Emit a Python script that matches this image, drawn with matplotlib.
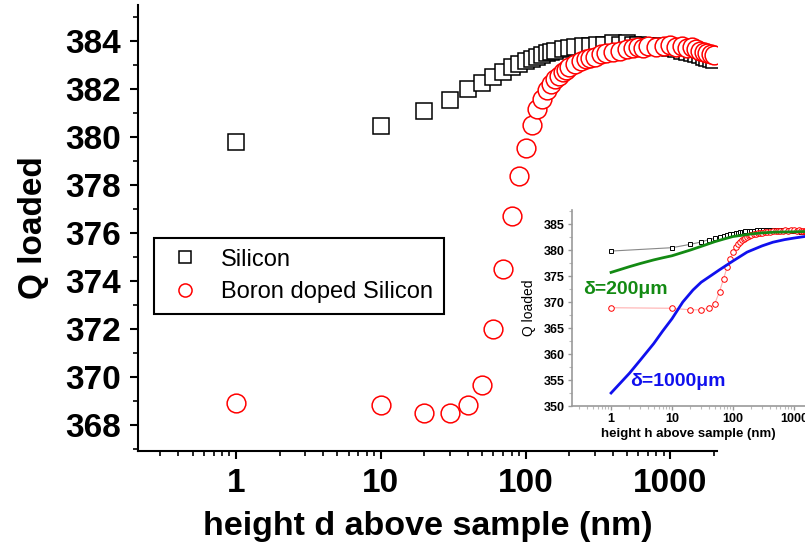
import matplotlib
matplotlib.use('Agg')
from matplotlib import pyplot as plt
from matplotlib.ticker import MultipleLocator, LogLocator, NullFormatter, FixedLocator

plt.rcParams['font.family'] = ['Liberation Sans', 'DejaVu Sans']

# Silicon (squares)
si_x = [1, 10, 20, 30, 40, 50, 60, 70, 80, 90, 100, 110, 120, 130, 140, 150,
        160, 180, 200, 220, 250, 280, 310, 350, 400, 450, 500, 550, 600, 700,
        800, 900, 1000, 1100, 1200, 1300, 1400, 1500, 1600, 1700, 1800, 1900, 2000]
si_q = [379.8, 380.45, 381.1, 381.55, 382.0, 382.25, 382.5, 382.7, 382.9, 383.05,
        383.15, 383.25, 383.35, 383.4, 383.5, 383.55, 383.6, 383.65, 383.7, 383.75,
        383.8, 383.8, 383.85, 383.85, 383.9, 383.85, 383.9, 383.85, 383.85, 383.8,
        383.8, 383.75, 383.7, 383.65, 383.6, 383.55, 383.5, 383.45, 383.4, 383.35,
        383.3, 383.25, 383.2]

# Boron doped silicon (circles)
b_x = [1, 10, 20, 30, 40, 50, 60, 70, 80, 90, 100, 110, 120, 130, 140, 150,
       160, 170, 180, 190, 200, 220, 240, 260, 280, 300, 330, 360, 400, 450,
       500, 550, 600, 650, 700, 800, 900, 1000, 1100, 1200, 1300, 1400, 1500,
       1600, 1700, 1800, 1900, 2000]
b_q = [368.9, 368.8, 368.5, 368.5, 368.8, 369.65, 372.0, 374.5, 376.7, 378.35,
       379.55, 380.5, 381.15, 381.6, 381.95, 382.2, 382.4, 382.55, 382.7, 382.8,
       382.9, 383.05, 383.15, 383.25, 383.3, 383.35, 383.45, 383.5, 383.55, 383.6,
       383.65, 383.7, 383.75, 383.7, 383.8, 383.75, 383.8, 383.85, 383.75, 383.8,
       383.7, 383.75, 383.65, 383.6, 383.55, 383.5, 383.45, 383.4]

# inset model curves
d200_x = [1, 2, 3, 5, 7, 10, 20, 30, 50, 70, 100, 200, 300, 500, 1000, 1500]
d200_q = [375.7, 376.8, 377.4, 378.1, 378.5, 378.9, 380.0, 380.7, 381.6, 382.1,
          382.6, 383.1, 383.3, 383.45, 383.5, 383.55]
d1000_x = [1, 2, 3, 5, 7, 10, 15, 22, 30, 45, 60, 100, 170, 300, 450, 700, 1000, 1500]
d1000_q = [352.5, 356.3, 358.8, 362.0, 364.4, 366.8, 370.0, 372.3, 373.8, 375.2,
           376.2, 377.9, 379.6, 380.8, 381.5, 382.0, 382.3, 382.6]

main_xticks = [1, 10, 100, 1000]
main_yticks = [368, 370, 372, 374, 376, 378, 380, 382, 384]
inset_yticks = [350, 355, 360, 365, 370, 375, 380, 385]


def main():
    fig = plt.figure(figsize=(8.05, 5.5), dpi=100)
    ax = fig.add_axes([0.1714, 0.18, 0.7193, 0.8109])

    ax.plot(si_x, si_q, linestyle='none', marker='s', markersize=12,
            markerfacecolor='white', markeredgecolor='black',
            markeredgewidth=1.1, label='Silicon')
    ax.plot(b_x, b_q, linestyle='none', marker='o', markersize=13.5,
            markerfacecolor='white', markeredgecolor='red',
            markeredgewidth=1.1, label='Boron doped Silicon')

    ax.set_xscale('log')
    ax.set_xlim(0.21, 2100)
    ax.set_ylim(366.9, 385.5)
    ax.xaxis.set_major_locator(FixedLocator(main_xticks))
    ax.xaxis.set_minor_locator(LogLocator(base=10, subs=range(2, 10)))
    ax.xaxis.set_minor_formatter(NullFormatter())
    ax.set_xticklabels([str(t) for t in main_xticks])
    ax.yaxis.set_major_locator(FixedLocator(main_yticks))
    ax.yaxis.set_minor_locator(MultipleLocator(1))

    for s in ['top', 'right']:
        ax.spines[s].set_visible(False)
    for s in ['left', 'bottom']:
        ax.spines[s].set_linewidth(1.5)
    ax.tick_params(which='major', direction='out', length=6, width=1.5,
                   labelsize=24, pad=6)
    ax.tick_params(which='minor', direction='out', length=3.5, width=1.2)
    for lbl in ax.get_xticklabels() + ax.get_yticklabels():
        lbl.set_fontweight('bold')

    ax.set_xlabel('height d above sample (nm)', fontsize=24.5,
                  fontweight='bold', labelpad=9)
    ax.set_ylabel('Q loaded', fontsize=24, fontweight='bold', labelpad=12)

    leg = ax.legend(loc='upper left', bbox_to_anchor=(0.1913, 0.5673),
                    bbox_transform=fig.transFigure, borderaxespad=0,
                    fontsize=17, fancybox=False, framealpha=1,
                    edgecolor='black', markerscale=0.7, handlelength=1.7,
                    handletextpad=0.7, labelspacing=0.45, borderpad=0.45)
    leg.get_frame().set_linewidth(1.5)

    # inset
    ins = fig.add_axes([0.7106, 0.2618, 0.2894, 0.3564])
    ins.plot(si_x, si_q, color='#888888', linewidth=0.8, marker='s',
             markersize=3.5, markerfacecolor='white', markeredgecolor='black',
             markeredgewidth=0.7)
    ins.plot(b_x, b_q, color='#ffb0b0', linewidth=0.8, marker='o',
             markersize=4, markerfacecolor='white', markeredgecolor='red',
             markeredgewidth=0.7)
    ins.plot(d200_x, d200_q, color='#138a13', linewidth=2)
    ins.plot(d1000_x, d1000_q, color='#1010ee', linewidth=2)
    ins.text(1.75, 372.4, 'δ=200μm', color='#138a13', fontsize=14,
             fontweight='bold', ha='center', va='center')
    ins.text(12.5, 354.8, 'δ=1000μm', color='#1010ee', fontsize=14,
             fontweight='bold', ha='center', va='center')

    ins.set_xscale('log')
    ins.set_xlim(0.229, 1514)
    ins.set_ylim(350, 387.7)
    ins.xaxis.set_major_locator(FixedLocator(main_xticks))
    ins.xaxis.set_minor_locator(LogLocator(base=10, subs=range(2, 10)))
    ins.xaxis.set_minor_formatter(NullFormatter())
    ins.set_xticklabels([str(t) for t in main_xticks])
    ins.yaxis.set_major_locator(FixedLocator(inset_yticks))
    ins.yaxis.set_minor_locator(MultipleLocator(2.5))
    for s in ['top', 'right']:
        ins.spines[s].set_visible(False)
    for s in ['left', 'bottom']:
        ins.spines[s].set_color('#999999')
        ins.spines[s].set_linewidth(1.2)
    ins.tick_params(which='major', direction='out', length=3, width=1,
                    color='#999999', labelsize=9, pad=2)
    ins.tick_params(which='minor', direction='out', length=2, width=0.8,
                    color='#bbbbbb')
    for lbl in ins.get_xticklabels() + ins.get_yticklabels():
        lbl.set_fontweight('bold')
    ins.set_xlabel('height h above sample (nm)', fontsize=9.5,
                   fontweight='bold', labelpad=2)
    ins.set_ylabel('Q loaded', fontsize=10, labelpad=6)

    fig.savefig('out.png', dpi=100)


if __name__ == "__main__":
    main()
